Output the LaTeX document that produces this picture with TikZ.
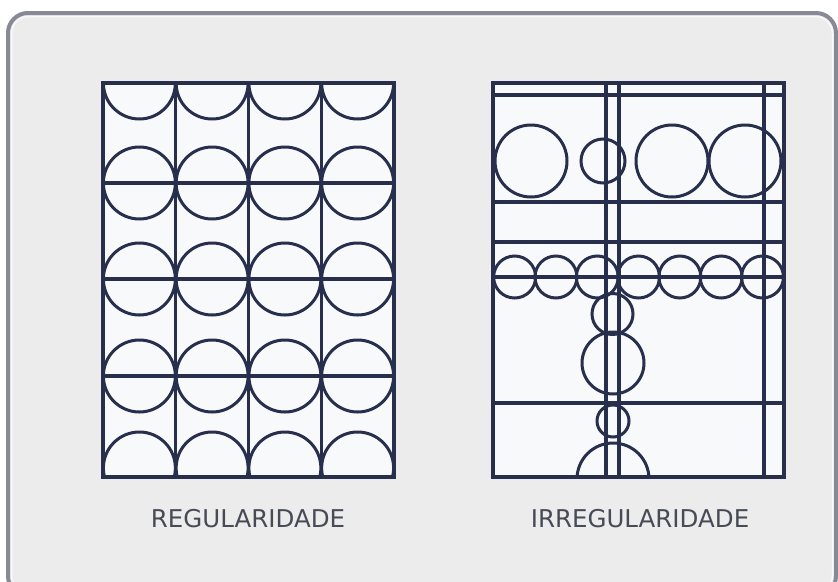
\documentclass[tikz,border=0pt]{standalone}
\usepackage{fontspec}
\setmainfont{DejaVu Sans}
\begin{document}
\begin{tikzpicture}[x=1pt,y=-1pt,
  navy/.style={draw=navyc,line width=3.3pt},
  ring/.style={draw=navyc,line width=3pt},
  lbl/.style={text=labelc,font=\fontsize{24.5}{28}\selectfont,inner sep=0pt}]
\definecolor{navyc}{HTML}{272F4D}
\definecolor{labelc}{HTML}{474B55}
\definecolor{framec}{HTML}{878A96}
\definecolor{bgc}{HTML}{ECECEC}
\definecolor{panelc}{HTML}{F8F9FB}
\useasboundingbox (0,0) rectangle (838,581);
\begin{scope}
\clip (0,0) rectangle (838,581);
\fill[white] (0,0) rectangle (838,581);
\draw[framec,line width=4pt,fill=bgc,rounded corners=20pt] (8,13) rectangle (836,596);
\draw[white,opacity=0.7,line width=1.5pt,rounded corners=17pt] (11.5,16.5) rectangle (832.5,592);
\end{scope}
% ---------- regular panel ----------
\fill[panelc] (103,83) rectangle (394,477);
\begin{scope}
\clip (103,83) rectangle (394,477);
\foreach \i in {0,1,2,3} {
  \pgfmathsetmacro{\cx}{103+72.75*\i+36.375}
  \draw[ring] (\cx,83) circle[radius=36];
  \draw[ring] (\cx,183) circle[radius=36];
  \draw[ring] (\cx,279) circle[radius=36];
  \draw[ring] (\cx,376) circle[radius=36];
  \draw[ring] (\cx,468) circle[radius=36];
}
\foreach \x in {175.75,248.5,321.25} \draw[navy] (\x,83) -- (\x,477);
\foreach \y in {183,279,376} \draw[navy] (103,\y) -- (394,\y);
\end{scope}
\draw[navy] (103,83) rectangle (394,477);
% ---------- irregular panel ----------
\fill[panelc] (493,83) rectangle (784,477);
\begin{scope}
\clip (493,83) rectangle (784,477);
\foreach \x/\r in {531/36,603/22,672/36,745/36} \draw[ring] (\x,161) circle[radius=\r];
\foreach \i in {0,...,6} {
  \pgfmathsetmacro{\cx}{494+20.65+41.3*\i}
  \draw[ring] (\cx,277) circle[radius=21];
}
\draw[ring] (612.5,314) circle[radius=20.5];
\draw[ring] (613,363) circle[radius=31];
\draw[ring] (613,421) circle[radius=16];
\draw[ring] (613,479) circle[radius=36];
\foreach \x in {606,619,764} \draw[navy] (\x,83) -- (\x,477);
\foreach \y in {95,202,242,277,403} \draw[navy] (493,\y) -- (784,\y);
\end{scope}
\draw[navy] (493,83) rectangle (784,477);
% ---------- labels ----------
\node[lbl] (reg) at (248,519) {REGULARIDADE};
\node[lbl] (irr) at (640,519) {IRREGULARIDADE};
\end{tikzpicture}
\end{document}
